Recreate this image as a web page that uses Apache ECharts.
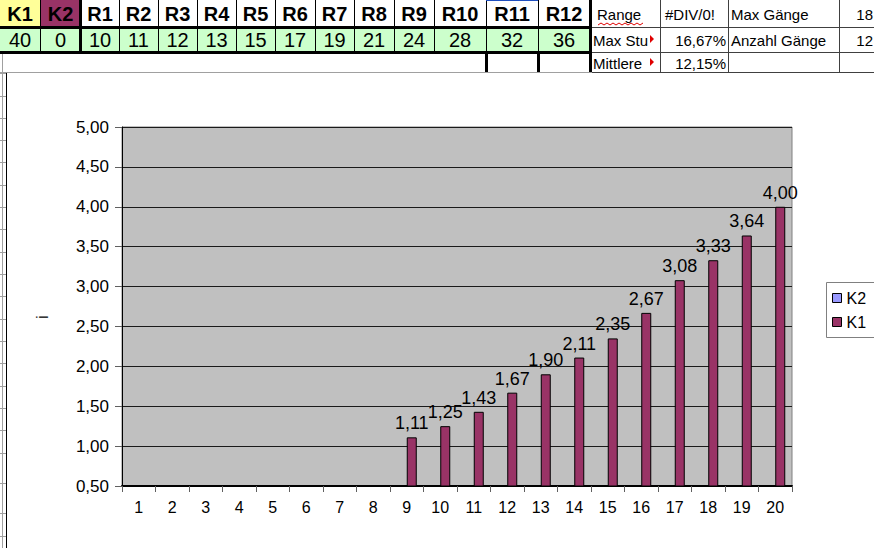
<!DOCTYPE html>
<html>
<head>
<meta charset="utf-8">
<script src="https://cdn.jsdelivr.net/npm/echarts@6/dist/echarts.min.js"></script>
<style>html,body{margin:0;padding:0;background:#fff;}#c{width:874px;height:548px;}</style>
</head>
<body>
<div id="c"></div>
<script>
// ---- data ----
var categories = ['1','2','3','4','5','6','7','8','9','10','11','12','13','14','15','16','17','18','19','20'];
var k1Values = [null,null,null,null,null,null,null,null,1.11,1.25,1.43,1.67,1.90,2.11,2.35,2.67,3.08,3.33,3.64,4.00];
var k2Values = [null,null,null,null,null,null,null,null,null,null,null,null,null,null,null,null,null,null,null,null];
var seriesNames = ['K2','K1'];
var yTicks = {min:0.5, max:5.0, interval:0.5};
var axisTitle = 'i';
var headerLabels = ['K1','K2','R1','R2','R3','R4','R5','R6','R7','R8','R9','R10','R11','R12'];
var headerValues = ['40','0','10','11','12','13','15','17','19','21','24','28','32','36'];
var sideRow1 = ['Range','#DIV/0!','Max Gänge','18'];
var sideRow2 = ['Max Stu','16,67%','Anzahl Gänge','12'];
var sideRow3 = ['Mittlere','12,15%','',''];

// ---- layout (styling only) ----
var colX = [0,40,81,119,158,197,236,275,315,354,394,434,486,538,590];
var headerFills = ['#FFFF99','#993366'];
var FONT = 'Arial, "Liberation Sans", sans-serif';
function fmt(v){ return (v==null)?'':Number(v).toFixed(2).replace('.', ','); }

var g = [];
// chart area frame
g.push({type:'rect', z:-10, shape:{x:6.5,y:72.5,width:900,height:500}, style:{fill:'#fff', stroke:'#000', lineWidth:1}});
// spreadsheet column gridline at left
g.push({type:'line', z:-9, shape:{x1:2.5,y1:54,x2:2.5,y2:548}, style:{stroke:'#a0a0a0', lineWidth:1}});
[73,96,118,140,162,185,207,229,252,274,296,319,341,363,386,408,430,453,483,513,536].forEach(function(y){
  g.push({type:'line', z:-9, shape:{x1:0,y1:y+0.5,x2:6,y2:y+0.5}, style:{stroke:'#a0a0a0', lineWidth:1}});
});
// header table cells
for (var i=0;i<headerLabels.length;i++){
  var x0 = colX[i], x1 = colX[i+1];
  g.push({type:'rect', shape:{x:x0,y:0,width:x1-x0,height:27}, style:{fill: headerFills[i] || '#fff'}});
  g.push({type:'rect', shape:{x:x0,y:27,width:x1-x0,height:25}, style:{fill:'#CCFFCC'}});
  g.push({type:'text', style:{text:headerLabels[i], x:(x0+x1)/2, y:14, align:'center', verticalAlign:'middle', font:'bold 20px '+FONT, fill:'#000'}});
  g.push({type:'text', style:{text:headerValues[i], x:(x0+x1)/2, y:40, align:'center', verticalAlign:'middle', font:'20px '+FONT, fill:'#000'}});
  if (i>0){
    g.push({type:'line', shape:{x1:x0+0.5,y1:0,x2:x0+0.5,y2:52}, style:{stroke:'#000', lineWidth:1}});
  }
}
// thick borders
g.push({type:'line', shape:{x1:0,y1:27.5,x2:590,y2:27.5}, style:{stroke:'#000', lineWidth:3}});
g.push({type:'line', shape:{x1:0,y1:52.5,x2:590,y2:52.5}, style:{stroke:'#000', lineWidth:3}});
g.push({type:'line', shape:{x1:80.5,y1:0,x2:80.5,y2:53}, style:{stroke:'#000', lineWidth:3}});
g.push({type:'line', shape:{x1:590.5,y1:0,x2:590.5,y2:73}, style:{stroke:'#000', lineWidth:3}});
g.push({type:'line', shape:{x1:486.5,y1:52,x2:486.5,y2:73}, style:{stroke:'#000', lineWidth:3}});
g.push({type:'line', shape:{x1:538.5,y1:52,x2:538.5,y2:73}, style:{stroke:'#000', lineWidth:3}});
// selection mark
g.push({type:'line', shape:{x1:486,y1:0.5,x2:538,y2:0.5}, style:{stroke:'#1f4fbf', lineWidth:1}});
// side table grid
[27.5,52.5,72.5].forEach(function(y){
  g.push({type:'line', shape:{x1:592,y1:y,x2:874,y2:y}, style:{stroke:'#404040', lineWidth:1}});
});
g.push({type:'line', shape:{x1:0,y1:72.5,x2:592,y2:72.5}, style:{stroke:'#a0a0a0', lineWidth:1}});
[660.5,728.5,839.5].forEach(function(x){
  g.push({type:'line', shape:{x1:x,y1:0,x2:x,y2:72}, style:{stroke:'#404040', lineWidth:1}});
});
var sideRows = [sideRow1, sideRow2, sideRow3];
var rowY = [14, 40, 63];
for (var r=0;r<3;r++){
  var row = sideRows[r];
  var cy = rowY[r];
  if (r===0){
    g.push({type:'text', style:{text:row[0], x:597, y:cy, align:'left', verticalAlign:'middle', font:'15px '+FONT, fill:'#000'}});
    g.push({type:'text', style:{text:row[1], x:690, y:cy, align:'center', verticalAlign:'middle', font:'15px '+FONT, fill:'#000'}});
  } else {
    g.push({type:'text', style:{text:row[0], x:593, y:cy, align:'left', verticalAlign:'middle', font:'15px '+FONT, fill:'#000'}});
    g.push({type:'text', style:{text:row[1], x:726, y:cy, align:'right', verticalAlign:'middle', font:'15px '+FONT, fill:'#000'}});
    g.push({type:'polygon', shape:{points:[[650,cy-5],[654,cy-1],[650,cy+3]]}, style:{fill:'#e00000'}});
  }
  g.push({type:'text', style:{text:row[2], x:731, y:cy, align:'left', verticalAlign:'middle', font:'15px '+FONT, fill:'#000'}});
  g.push({type:'text', style:{text:row[3], x:873, y:cy, align:'right', verticalAlign:'middle', font:'15px '+FONT, fill:'#000'}});
}
// red wavy underline under "Range"
var wave = [];
for (var wx=598; wx<=643; wx+=3){ wave.push([wx, (Math.round((wx-598)/3)%2===0)?25:23]); }
g.push({type:'polyline', shape:{points:wave}, style:{stroke:'#e00000', lineWidth:1, fill:null}});
// axis title (rotated)
g.push({type:'text', x:42, y:317, rotation:Math.PI/2, style:{text:axisTitle, x:0, y:0, align:'center', verticalAlign:'middle', font:'17px '+FONT, fill:'#000'}});
// legend frame
g.push({type:'rect', shape:{x:826.5,y:282.5,width:50,height:55}, style:{fill:'#fff', stroke:'#808080', lineWidth:1}});

var chart = echarts.init(document.getElementById('c'), null, {renderer:'svg'});
chart.setOption({
  animation:false,
  backgroundColor:'#fff',
  textStyle:{fontFamily:FONT},
  graphic:{elements:g},
  legend:{
    data:seriesNames, orient:'vertical', left:832, top:290, padding:0,
    itemWidth:9, itemHeight:9, itemGap:8, icon:'rect', z:20,
    itemStyle:{borderColor:'#000', borderWidth:1},
    textStyle:{fontSize:16, color:'#000', fontFamily:FONT, lineHeight:16, padding:[0,0,0,0]}
  },
  grid:{left:122, top:127, width:670, height:359, show:true, backgroundColor:'#C0C0C0', borderColor:'#808080', borderWidth:1},
  xAxis:{
    type:'category', data:categories, boundaryGap:true,
    axisLine:{show:true, lineStyle:{color:'#000', width:2}},
    axisTick:{show:true, length:6, lineStyle:{color:'#606060', width:1}},
    axisLabel:{fontSize:16, color:'#000', margin:13, fontFamily:FONT},
    splitLine:{show:false}
  },
  yAxis:{
    type:'value', min:yTicks.min, max:yTicks.max, interval:yTicks.interval,
    axisLine:{show:true, lineStyle:{color:'#000', width:1}},
    axisTick:{show:true, length:7, lineStyle:{color:'#606060', width:1}},
    axisLabel:{fontSize:17, color:'#000', margin:13, fontFamily:FONT, formatter:function(v){return fmt(v);}},
    splitLine:{show:true, lineStyle:{color:'#1a1a1a', width:1}}
  },
  series:[
    {name:seriesNames[0], type:'bar', data:k2Values, barWidth:10, barGap:'0%',
     itemStyle:{color:'#9999FF', borderColor:'#000', borderWidth:1}},
    {name:seriesNames[1], type:'bar', data:k1Values, barWidth:10, barGap:'0%',
     itemStyle:{color:'#993366', borderColor:'#000', borderWidth:1},
     label:{show:true, position:'top', distance:5, fontSize:18, color:'#000', fontFamily:FONT,
            formatter:function(p){return fmt(p.value);}}}
  ]
});
</script>
</body>
</html>
